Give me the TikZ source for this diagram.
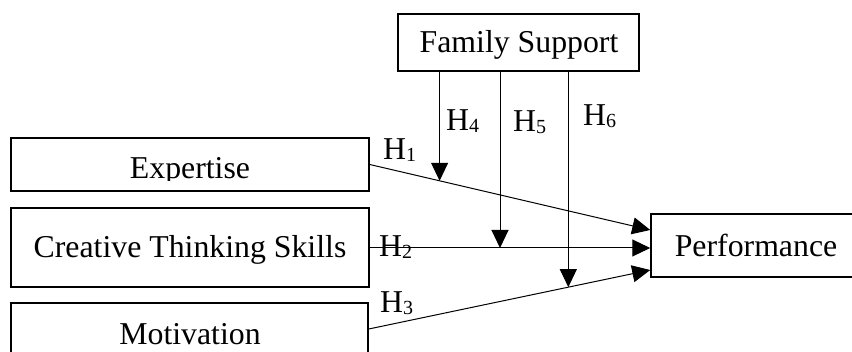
\documentclass[tikz,border=0pt]{standalone}
\usepackage{fontspec}
\setmainfont{Liberation Serif}
\usetikzlibrary{arrows.meta,calc}
\newcommand{\hyp}[1]{H\raisebox{-2pt}{\fontsize{20}{20}\selectfont #1}}
\tikzset{
  box/.style={draw, line width=1.5pt, inner sep=0pt, rectangle},
  txt/.style={anchor=base, inner sep=0pt, font=\fontsize{31.8}{36}\selectfont},
  hl/.style={anchor=base west, inner sep=0pt, font=\fontsize{31.8}{36}\selectfont},
  arr/.style={line width=1pt, -{Triangle[length=18pt,width=17pt]}}
}
\begin{document}
\begin{tikzpicture}[x=1pt,y=-1pt]
\useasboundingbox (0,0) rectangle (852,352);
\clip (0,0) rectangle (852,352);
% boxes
\node[box, minimum width=241pt, minimum height=57pt] (fs) at (518.5,42.5) {};
\node[box, minimum width=358pt, minimum height=53pt] (exp) at (190,164.5) {};
\node[box, minimum width=358pt, minimum height=79pt] (cts) at (190,247.5) {};
\node[box, minimum width=357pt, minimum height=52pt] (mot) at (189.5,329) {};
\node[box, minimum width=220pt, minimum height=63pt] (perf) at (761,245.5) {};
% texts
\node[txt] (fsT) at (519,53) {Family Support};
\begin{scope}
\clip (12,139) rectangle (368,180.5);
\node[txt] (expT) at (190,179) {Expertise};
\end{scope}
\node[txt] (ctsT) at (190,258) {Creative Thinking Skills};
\node[txt] (motT) at (190,345) {Motivation};
\node[txt] (perfT) at (756,257) {Performance};
% target points on Performance (yshift is in canvas direction: + is up)
\coordinate (p1) at ([yshift=15.5pt]perf.west);
\coordinate (p2) at ([yshift=-2.5pt]perf.west);
\coordinate (p3) at ([yshift=-24.5pt]perf.west);
% main paths
\draw[arr] (exp.east) -- (p1);
\draw[arr] (cts.east |- p2) -- (p2);
\draw[arr] (mot.east) -- (p3);
% moderator targets
\coordinate (m4) at ($(exp.east)!0.249!(p1)$);
\coordinate (m5) at (500,248);
\coordinate (m6) at ($(mot.east)!0.709!(p3)$);
\draw[arr] (fs.south -| m4) -- (m4);
\draw[arr] (fs.south -| m5) -- (m5);
\draw[arr] (fs.south -| m6) -- (m6);
% labels
\node[hl] (h1) at (383,160) {\hyp{1}};
\node[hl] (h2) at (379,257) {\hyp{2}};
\node[hl] (h3) at (380,313) {\hyp{3}};
\node[hl] (h4) at (446,131) {\hyp{4}};
\node[hl] (h5) at (513,132) {\hyp{5}};
\node[hl] (h6) at (583,126) {\hyp{6}};
\end{tikzpicture}
\end{document}
